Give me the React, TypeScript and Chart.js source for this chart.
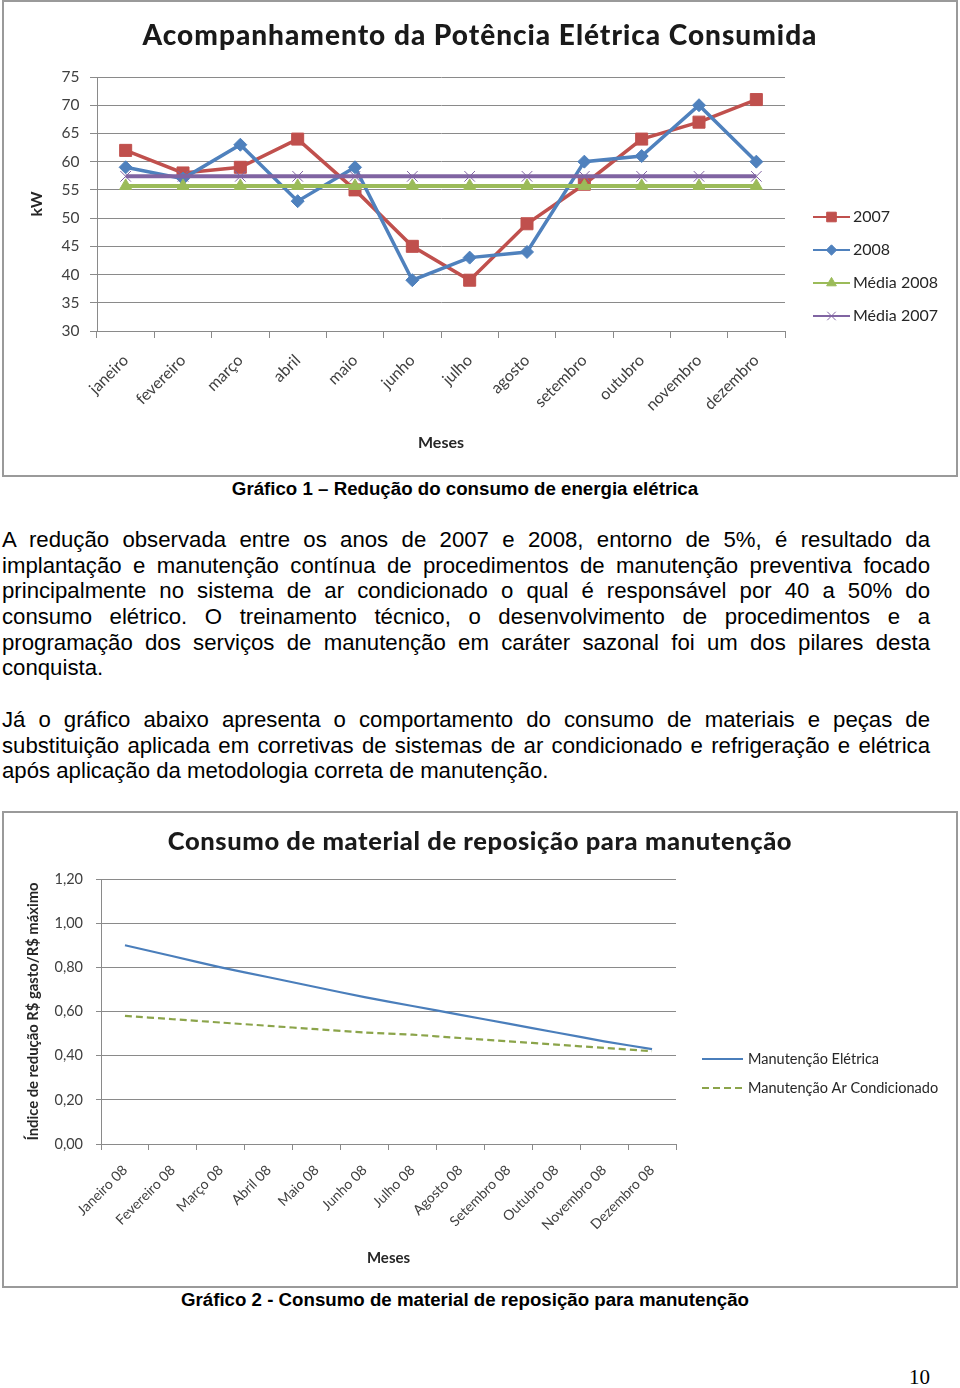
import React, { useEffect, useRef } from 'react';
import { Chart, registerables } from 'chart.js';
import { drawPoint } from 'chart.js/helpers';

Chart.register(...registerables);

// ---------- Gráfico 1 data ----------
const meses = ['janeiro', 'fevereiro', 'março', 'abril', 'maio', 'junho', 'julho', 'agosto', 'setembro', 'outubro', 'novembro', 'dezembro'];
const potencia2007 = [62, 58, 59, 64, 55, 45, 39, 49, 56, 64, 67, 71];
const potencia2008 = [59, 57, 63, 53, 59, 39, 43, 44, 60, 61, 70, 60];
const mediaPotencia2008 = [55.7, 55.7, 55.7, 55.7, 55.7, 55.7, 55.7, 55.7, 55.7, 55.7, 55.7, 55.7];
const mediaPotencia2007 = [57.4, 57.4, 57.4, 57.4, 57.4, 57.4, 57.4, 57.4, 57.4, 57.4, 57.4, 57.4];
const potenciaEixo = { min: 30, max: 75, step: 5 };

// ---------- Gráfico 2 data ----------
const meses08 = ['Janeiro 08', 'Fevereiro 08', 'Março 08', 'Abril 08', 'Maio 08', 'Junho 08', 'Julho 08', 'Agosto 08', 'Setembro 08', 'Outubro 08', 'Novembro 08', 'Dezembro 08'];
const indiceEletrica = [0.9, 0.85, 0.8, 0.755, 0.71, 0.665, 0.625, 0.585, 0.545, 0.505, 0.465, 0.43];
const indiceArCondicionado = [0.58, 0.565, 0.55, 0.535, 0.52, 0.505, 0.495, 0.48, 0.465, 0.45, 0.435, 0.42];
const indiceEixo = { min: 0, max: 1.2, step: 0.2 };

const FONT = 'Lato, "Open Sans", sans-serif';
const GRID = '#8a8a8a';
const TICK_COLOR = '#404040';

const legendPlugin = {
  id: 'customLegend',
  afterDraw(chart: any, _args: any, opts: any) {
    if (!opts || !opts.display) return;
    const ctx = chart.ctx;
    ctx.save();
    if (opts.title) {
      const t = opts.title;
      ctx.save();
      ctx.font = t.font;
      ctx.fillStyle = t.color;
      ctx.textAlign = 'center';
      ctx.textBaseline = 'middle';
      if ('letterSpacing' in ctx) (ctx as any).letterSpacing = t.letterSpacing;
      ctx.fillText(t.text, chart.width / 2, t.y);
      ctx.restore();
    }
    const order: number[] = opts.order || chart.data.datasets.map((_: any, i: number) => i);
    order.forEach((dsIndex: number, k: number) => {
      const ds = chart.data.datasets[dsIndex];
      const y = opts.y + k * opts.spacing;
      const x = opts.x;
      ctx.strokeStyle = ds.borderColor;
      ctx.lineWidth = opts.lineWidth;
      ctx.setLineDash(ds.borderDash || []);
      ctx.beginPath();
      ctx.moveTo(x, y);
      ctx.lineTo(x + opts.lineLength, y);
      ctx.stroke();
      ctx.setLineDash([]);
      if (ds.pointRadius && ds.pointRadius > 0) {
        ctx.fillStyle = ds.pointBackgroundColor;
        ctx.strokeStyle = ds.pointBorderColor;
        ctx.lineWidth = ds.pointBorderWidth || 1;
        drawPoint(
          ctx,
          { pointStyle: ds.pointStyle, radius: ds.pointRadius * opts.markerScale, borderWidth: ds.pointBorderWidth || 1, rotation: 0 } as any,
          x + opts.lineLength / 2,
          y
        );
      }
      ctx.fillStyle = opts.color;
      ctx.font = opts.font;
      ctx.textBaseline = 'middle';
      ctx.textAlign = 'left';
      ctx.fillText(ds.label, x + opts.lineLength + opts.gap, y);
    });
    ctx.restore();
  },
};

function ChartPotencia() {
  const ref = useRef<HTMLCanvasElement | null>(null);
  useEffect(() => {
    if (!ref.current) return;
    const chart = new Chart(ref.current, {
      type: 'line',
      data: {
        labels: meses,
        datasets: [
          {
            label: '2007',
            data: potencia2007,
            borderColor: '#c0504d',
            backgroundColor: '#c0504d',
            borderWidth: 3.5,
            pointStyle: 'rect',
            pointRadius: 8.5,
            pointBackgroundColor: '#c0504d',
            pointBorderColor: '#c0504d',
            pointBorderWidth: 1,
            tension: 0,
            order: 4,
          },
          {
            label: '2008',
            data: potencia2008,
            borderColor: '#4f81bd',
            backgroundColor: '#4f81bd',
            borderWidth: 3.5,
            pointStyle: 'rectRot',
            pointRadius: 6.5,
            pointBackgroundColor: '#4f81bd',
            pointBorderColor: '#4f81bd',
            pointBorderWidth: 1,
            tension: 0,
            order: 3,
          },
          {
            label: 'Média 2008',
            data: mediaPotencia2008,
            borderColor: '#9bbb59',
            backgroundColor: '#9bbb59',
            borderWidth: 4,
            pointStyle: 'triangle',
            pointRadius: 7,
            pointBackgroundColor: '#9bbb59',
            pointBorderColor: '#9bbb59',
            pointBorderWidth: 1,
            tension: 0,
            order: 2,
          },
          {
            label: 'Média 2007',
            data: mediaPotencia2007,
            borderColor: '#8064a2',
            backgroundColor: '#8064a2',
            borderWidth: 4,
            pointStyle: 'crossRot',
            pointRadius: 7.5,
            pointBackgroundColor: '#8064a2',
            pointBorderColor: '#8064a2',
            pointBorderWidth: 1,
            tension: 0,
            order: 1,
          },
        ],
      },
      options: {
        responsive: false,
        animation: false,
        devicePixelRatio: 1,
        layout: { padding: { left: 0, right: 171, top: 75, bottom: 0 } },
        plugins: {
          legend: { display: false },
          tooltip: { enabled: false },
          title: { display: false },
          customLegend: {
            display: true,
            title: {
              text: 'Acompanhamento da Potência Elétrica Consumida',
              y: 34,
              font: `900 28px ${FONT}`,
              color: '#1a1a1a',
              letterSpacing: '1px',
            },
            order: [0, 1, 2, 3],
            x: 809,
            y: 215,
            spacing: 33,
            lineLength: 37,
            lineWidth: 2.2,
            markerScale: 0.8,
            gap: 3,
            color: '#262626',
            font: `16px ${FONT}`,
          },
        } as any,
        scales: {
          x: {
            type: 'category',
            offset: true,
            afterFit: (s: any) => { s.height = 144; },
            grid: { display: true, offset: true, drawOnChartArea: false, drawTicks: true, tickLength: 7, color: GRID },
            border: { display: true, color: GRID, width: 1 },
            ticks: {
              autoSkip: false,
              maxRotation: 45,
              minRotation: 45,
              padding: 13,
              color: TICK_COLOR,
              font: { family: FONT, size: 16 },
            },
            title: {
              display: true,
              text: 'Meses',
              color: '#262626',
              font: { family: FONT, size: 16, weight: 'bold', lineHeight: 1.2 },
              padding: { top: 0, bottom: 22.4 },
            },
          },
          y: {
            min: potenciaEixo.min,
            max: potenciaEixo.max,
            afterFit: (s: any) => { s.width = 93; },
            grid: { display: true, color: GRID, drawTicks: true, tickLength: 7 },
            border: { display: true, color: GRID, width: 1 },
            ticks: {
              stepSize: potenciaEixo.step,
              padding: 10.5,
              color: TICK_COLOR,
              font: { family: FONT, size: 15.5 },
            },
            title: {
              display: true,
              text: 'kW',
              color: '#262626',
              font: { family: FONT, size: 16, weight: 'bold', lineHeight: 1.2 },
              padding: { top: 23.4, bottom: 0 },
            },
          },
        },
      },
      plugins: [legendPlugin as any],
    } as any);
    return () => chart.destroy();
  }, []);
  return <canvas ref={ref} width={952} height={473} style={{ display: 'block', width: 952, height: 473 }} />;
}

function ChartMaterial() {
  const ref = useRef<HTMLCanvasElement | null>(null);
  useEffect(() => {
    if (!ref.current) return;
    const chart = new Chart(ref.current, {
      type: 'line',
      data: {
        labels: meses08,
        datasets: [
          {
            label: 'Manutenção Elétrica',
            data: indiceEletrica,
            borderColor: '#4a7ebb',
            backgroundColor: '#4a7ebb',
            borderWidth: 2.2,
            pointRadius: 0,
            tension: 0.25,
          },
          {
            label: 'Manutenção Ar Condicionado',
            data: indiceArCondicionado,
            borderColor: '#8ba44a',
            backgroundColor: '#8ba44a',
            borderWidth: 2.2,
            borderDash: [7, 4],
            pointRadius: 0,
            tension: 0.25,
          },
        ],
      },
      options: {
        responsive: false,
        animation: false,
        devicePixelRatio: 1,
        layout: { padding: { left: 0, right: 280, top: 66, bottom: 0 } },
        plugins: {
          legend: { display: false },
          tooltip: { enabled: false },
          title: { display: false },
          customLegend: {
            display: true,
            title: {
              text: 'Consumo de material de reposição para manutenção',
              y: 29,
              font: `900 25.5px ${FONT}`,
              color: '#1a1a1a',
              letterSpacing: '0.6px',
            },
            order: [0, 1],
            x: 698,
            y: 246,
            spacing: 29,
            lineLength: 41,
            lineWidth: 2.2,
            markerScale: 1,
            gap: 5,
            color: '#262626',
            font: `14.5px ${FONT}`,
          },
        } as any,
        scales: {
          x: {
            type: 'category',
            offset: true,
            afterFit: (s: any) => { s.height = 142; },
            grid: { display: true, offset: true, drawOnChartArea: false, drawTicks: true, tickLength: 6, color: GRID },
            border: { display: true, color: GRID, width: 1 },
            ticks: {
              autoSkip: false,
              maxRotation: 45,
              minRotation: 45,
              padding: 12,
              color: TICK_COLOR,
              font: { family: FONT, size: 14 },
            },
            title: {
              display: true,
              text: 'Meses',
              color: '#262626',
              font: { family: FONT, size: 15, weight: 'bold', lineHeight: 1.2 },
              padding: { top: 0, bottom: 19 },
            },
          },
          y: {
            min: indiceEixo.min,
            max: indiceEixo.max,
            afterFit: (s: any) => { s.width = 97; },
            grid: { display: true, color: GRID, drawTicks: true, tickLength: 5 },
            border: { display: true, color: GRID, width: 1 },
            ticks: {
              stepSize: indiceEixo.step,
              padding: 13,
              color: TICK_COLOR,
              font: { family: FONT, size: 14.5 },
              callback: (v: any) => Number(v).toFixed(2).replace('.', ','),
            },
            title: {
              display: true,
              text: 'Índice de redução R$ gasto/R$ máximo',
              color: '#262626',
              font: { family: FONT, size: 14.8, weight: 'bold', lineHeight: 1.2 },
              padding: { top: 20.1, bottom: 0 },
            },
          },
        },
      },
      plugins: [legendPlugin as any],
    } as any);
    return () => chart.destroy();
  }, []);
  return <canvas ref={ref} width={952} height={473} style={{ display: 'block', width: 952, height: 473 }} />;
}

const para1 = [
  'A redução observada entre os anos de 2007 e 2008, entorno de 5%, é resultado da',
  'implantação e manutenção contínua de procedimentos de manutenção preventiva focado',
  'principalmente no sistema de ar condicionado o qual é responsável por 40 a 50% do',
  'consumo elétrico. O treinamento técnico, o desenvolvimento de procedimentos e a',
  'programação dos serviços de manutenção em caráter sazonal foi um dos pilares desta',
  'conquista.',
];
const para2 = [
  'Já o gráfico abaixo apresenta o comportamento do consumo de materiais e peças de',
  'substituição aplicada em corretivas de sistemas de ar condicionado e refrigeração e elétrica',
  'após aplicação da metodologia correta de manutenção.',
];

const TEXT_FONT = '"Liberation Sans", Arial, Helvetica, sans-serif';

function Paragraph({ lines, top }: { lines: string[]; top: number }) {
  return (
    <div style={{ position: 'absolute', left: 2, top, width: 928, fontFamily: TEXT_FONT, fontSize: 22.2, lineHeight: '25.6px', color: '#000' }}>
      {lines.map((l, i) => (
        <div
          key={i}
          style={{
            whiteSpace: 'nowrap',
            textAlign: 'justify',
            textAlignLast: i === lines.length - 1 ? 'left' : 'justify',
          } as any}
        >
          {l}
        </div>
      ))}
    </div>
  );
}

export default function App() {
  const frame: React.CSSProperties = {
    position: 'absolute',
    left: 2,
    width: 952,
    height: 473,
    border: '2px solid #9a9a9a',
    background: '#fff',
  };
  const caption: React.CSSProperties = {
    position: 'absolute', left: 0, width: 930, textAlign: 'center',
    fontFamily: TEXT_FONT, fontWeight: 'bold', fontSize: 18.7, lineHeight: '25.6px', whiteSpace: 'nowrap',
  };
  return (
    <div style={{ position: 'absolute', left: 0, top: 0, width: 960, height: 1388, background: '#fff', overflow: 'hidden' }}>
      <div style={{ ...frame, top: 0 }}>
        <ChartPotencia />
      </div>
      <div style={{ ...caption, top: 476.2 }}>
        Gráfico 1 – Redução do consumo de energia elétrica
      </div>
      <Paragraph lines={para1} top={527.2} />
      <Paragraph lines={para2} top={707.2} />
      <div style={{ ...frame, top: 811 }}>
        <ChartMaterial />
      </div>
      <div style={{ ...caption, top: 1287.2 }}>
        Gráfico 2 - Consumo de material de reposição para manutenção
      </div>
      <div
        style={{
          position: 'absolute', right: 30, top: 1364, fontFamily: '"Liberation Serif", "Times New Roman", serif',
          fontSize: 21, lineHeight: '26px',
        }}
      >
        10
      </div>
    </div>
  );
}
